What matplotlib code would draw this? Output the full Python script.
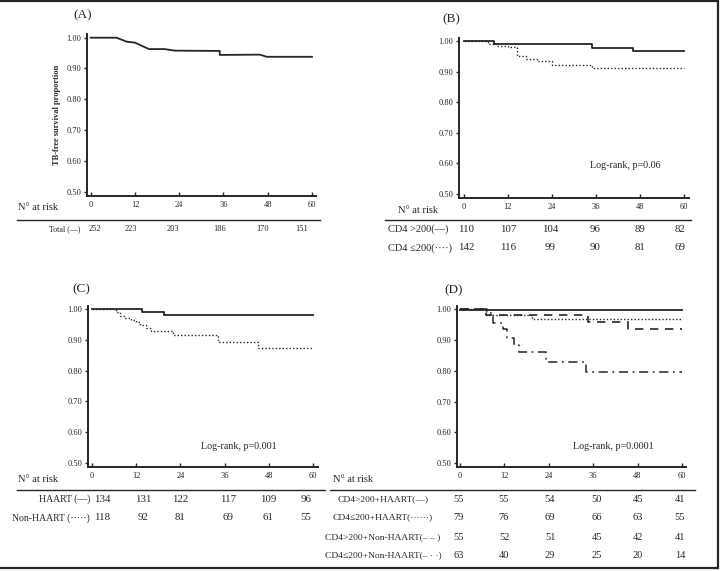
import matplotlib
matplotlib.use('Agg')
import matplotlib.pyplot as plt
from matplotlib.patches import Rectangle

plt.rcParams['font.family'] = ['Liberation Serif', 'DejaVu Serif']

W, H = 721, 571
INK = '#262626'

# ---- data ----
months = [0, 12, 24, 36, 48, 60]
yticks = [0.50, 0.60, 0.70, 0.80, 0.90, 1.00]

# (A) whole cohort
a_t = [0, 7, 9.8, 12, 15.8, 20, 22.8, 35, 35, 45.9, 47.7, 60]
a_s = [1.0, 1.0, 0.987, 0.984, 0.963, 0.963, 0.958, 0.957, 0.944, 0.945, 0.938, 0.938]
a_risk = [252, 223, 203, 186, 170, 151]

# (B) CD4 groups
b_hi_t = [0, 8.2, 35, 46, 60]
b_hi_s = [1.0, 0.989, 0.978, 0.966, 0.966]
b_lo_t = [0, 6.5, 9, 12, 14.5, 17, 20, 24, 35, 60]
b_lo_s = [1.0, 0.99, 0.985, 0.98, 0.95, 0.94, 0.934, 0.921, 0.911, 0.911]
b_risk = {'CD4 >200(—)': [110, 107, 104, 96, 89, 82],
          'CD4 ≤200(····)': [142, 116, 99, 90, 81, 69]}

# (C) HAART
c_h_t = [0, 13.7, 19.6, 60]
c_h_s = [1.0, 0.99, 0.983, 0.983]
c_n_t = [0, 6.6, 7.5, 8.8, 10.5, 11.9, 13, 14.6, 15.9, 22.1, 34.1, 45.2, 60]
c_n_s = [1.0, 0.992, 0.98, 0.971, 0.965, 0.96, 0.949, 0.94, 0.93, 0.918, 0.892, 0.875, 0.875]
c_risk = {'HAART (—)': [134, 131, 122, 117, 109, 96],
          'Non-HAART (·····)': [118, 92, 81, 69, 61, 55]}

# (D) CD4 x HAART
d1_t, d1_s = [0, 60], [0.998, 0.998]
d2_t = [0, 7.1, 19.6, 60]
d2_s = [1.0, 0.983, 0.969, 0.969]
d3_t = [0, 7, 34.5, 45.5, 60]
d3_s = [1.0, 0.983, 0.959, 0.935, 0.935]
d4_t = [0, 7.2, 8.8, 11.5, 12.8, 14.7, 16, 23.2, 34.1, 60]
d4_s = [1.0, 0.989, 0.955, 0.935, 0.907, 0.885, 0.86, 0.83, 0.796, 0.796]
d_risk = {'CD4>200+HAART(—)': [55, 55, 54, 50, 45, 41],
          'CD4≤200+HAART(······)': [79, 76, 69, 66, 63, 55],
          'CD4>200+Non-HAART(– – )': [55, 52, 51, 45, 42, 41],
          'CD4≤200+Non-HAART(– · ·)': [63, 40, 29, 25, 20, 14]}


def fx(x):
    return x / W


def fy(y):
    return 1 - y / H


def make_axes(fig, left, top, right, bottom, xlim, ylim):
    ax = fig.add_axes([fx(left), fy(bottom), fx(right - left), (bottom - top) / H])
    ax.set_xlim(*xlim)
    ax.set_ylim(*ylim)
    for s in ['top', 'right']:
        ax.spines[s].set_visible(False)
    for s in ['left', 'bottom']:
        ax.spines[s].set_linewidth(1.4)
        ax.spines[s].set_color(INK)
    ax.set_xticks(months)
    ax.set_yticks(yticks)
    ax.set_yticklabels(['%.2f' % v for v in yticks])
    ax.tick_params(axis='x', direction='in', length=3, width=1, colors=INK,
                   labelsize=6, pad=3.5)
    ax.tick_params(axis='y', direction='out', length=2, width=1, colors=INK,
                   labelsize=6, pad=2)
    return ax


fig = plt.figure(figsize=(W / 100, H / 100), dpi=100)

# frame
fig.patches.append(Rectangle((-0.01, fy(568)), fx(718) + 0.01, fy(1) - fy(568),
                             transform=fig.transFigure, fill=False,
                             edgecolor=INK, linewidth=1.6))

solid = dict(color=INK, lw=1.3)
dotted = dict(color=INK, lw=1.0, linestyle=(0, (1, 1.5)))
dashed = dict(color=INK, lw=1.2, linestyle=(0, (5, 4)))
dashdot = dict(color=INK, lw=1.1, linestyle=(0, (6, 3, 1.2, 3)))

# ---- (A) ----
axA = make_axes(fig, 87, 34, 316, 196, (-1.0, 61.1), (0.486, 1.012))
axA.plot(a_t, a_s, **solid)
axA.set_ylabel('TB-free survival proportion', fontsize=6, fontweight='bold',
               color=INK, labelpad=4)
fig.text(fx(73), fy(15), '(A)', fontsize=9.5, color=INK, va='center')
fig.text(fx(18), fy(208), 'N° at risk', fontsize=7.5, color=INK, va='center')
fig.add_artist(plt.Line2D([fx(17), fx(320)], [fy(220), fy(220)], color=INK, lw=1))
fig.text(fx(80), fy(229), 'Total (—)', fontsize=5.8, color=INK, ha='right', va='center')
for xp, n in zip([95, 131, 173, 220, 263, 302], a_risk):
    fig.text(fx(xp), fy(229), str(n), fontsize=6, color=INK, ha='center', va='center')

# ---- (B) ----
axB = make_axes(fig, 459, 38, 689, 198, (-1.3, 61.4), (0.487, 1.01))
axB.step(b_hi_t, b_hi_s, where='post', **solid)
axB.step(b_lo_t, b_lo_s, where='post', **dotted)
axB.text(0.875, 0.2, 'Log-rank, p=0.06', transform=axB.transAxes, fontsize=7.2,
         color=INK, ha='right', va='center')
fig.text(fx(442), fy(19), '(B)', fontsize=9.5, color=INK, va='center')
fig.text(fx(398), fy(210), 'N° at risk', fontsize=7.5, color=INK, va='center')
fig.add_artist(plt.Line2D([fx(385), fx(691)], [fy(220), fy(220)], color=INK, lw=1))
for row_y, (lab, vals) in zip([229, 248], b_risk.items()):
    fig.text(fx(388), fy(row_y), lab, fontsize=7.5, color=INK, va='center')
    for xp, n in zip([466, 508, 550, 595, 640, 680], vals):
        fig.text(fx(xp), fy(row_y), str(n), fontsize=7.8, color=INK,
                 ha='center', va='center')

# ---- (C) ----
axC = make_axes(fig, 88, 306, 318, 467, (-1.1, 61.4), (0.486, 1.011))
axC.step(c_h_t, c_h_s, where='post', **solid)
axC.step(c_n_t, c_n_s, where='post', **dotted)
axC.text(0.82, 0.13, 'Log-rank, p=0.001', transform=axC.transAxes, fontsize=7.2,
         color=INK, ha='right', va='center')
fig.text(fx(72), fy(289), '(C)', fontsize=9.5, color=INK, va='center')
fig.text(fx(18), fy(479), 'N° at risk', fontsize=7.5, color=INK, va='center')
fig.add_artist(plt.Line2D([fx(17), fx(325)], [fy(490), fy(490)], color=INK, lw=1))
for row_y, (lab, vals) in zip([499, 518], c_risk.items()):
    fig.text(fx(90), fy(row_y), lab, fontsize=7, color=INK, ha='right', va='center')
    for xp, n in zip([102, 143, 180, 228, 268, 306], vals):
        fig.text(fx(xp), fy(row_y), str(n), fontsize=7.8, color=INK,
                 ha='center', va='center')

# ---- (D) ----
axD = make_axes(fig, 457, 306, 686, 467, (-0.8, 61.1), (0.487, 1.011))
axD.step(d1_t, d1_s, where='post', **solid)
axD.step(d2_t, d2_s, where='post', **dotted)
axD.step(d3_t, d3_s, where='post', **dashed)
axD.step(d4_t, d4_s, where='post', **dashdot)
axD.text(0.86, 0.13, 'Log-rank, p=0.0001', transform=axD.transAxes, fontsize=7.2,
         color=INK, ha='right', va='center')
fig.text(fx(444), fy(290), '(D)', fontsize=9.5, color=INK, va='center')
fig.text(fx(333), fy(479), 'N° at risk', fontsize=7.5, color=INK, va='center')
fig.add_artist(plt.Line2D([fx(330), fx(695)], [fy(490), fy(490)], color=INK, lw=1))
for row_y, (lab, vals) in zip([499, 517, 537, 555], d_risk.items()):
    fig.text(fx(383), fy(row_y), lab, fontsize=6.8, color=INK, ha='center', va='center')
    for xp, n in zip([459, 504, 550, 597, 638, 680], vals):
        fig.text(fx(xp), fy(row_y), str(n), fontsize=7.5, color=INK,
                 ha='center', va='center')

fig.savefig('out.png', dpi=100)
